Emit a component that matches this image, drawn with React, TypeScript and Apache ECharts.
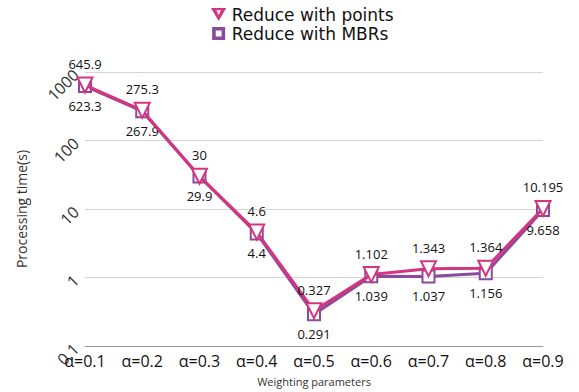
import React, { useEffect, useRef } from "react";
import * as echarts from "echarts";

const categories = ["α=0.1", "α=0.2", "α=0.3", "α=0.4", "α=0.5", "α=0.6", "α=0.7", "α=0.8", "α=0.9"];
const pointsValues = [645.9, 275.3, 30, 4.6, 0.327, 1.102, 1.343, 1.364, 10.195];
const mbrValues = [623.3, 267.9, 29.9, 4.4, 0.291, 1.039, 1.037, 1.156, 9.658];
const seriesNames = ["Reduce with points", "Reduce with MBRs"];

const PINK = "#d4357f";
const PURPLE = "#8a4a9e";
const FONT = "'Open Sans', 'Noto Sans', sans-serif";
const LEGEND_FONT = "'DejaVu Sans', sans-serif";

export default function App() {
  const ref = useRef<HTMLDivElement>(null);
  useEffect(() => {
    if (!ref.current) return;
    const chart = echarts.init(ref.current, null, { renderer: "svg" });
    chart.setOption({
      animation: false,
      textStyle: { fontFamily: FONT },
      legend: {
        orient: "vertical",
        left: 206,
        top: 0,
        itemGap: 0,
        itemWidth: 16,
        itemHeight: 13,
        textStyle: { fontSize: 17, lineHeight: 19, color: "#111", fontFamily: LEGEND_FONT },
        data: [
          { name: seriesNames[0], icon: "path://M0,0L20,0L10,17Z M7,3L10,9L13,3Z" },
          { name: seriesNames[1], icon: "path://M0,0L18,0L18,18L0,18Z M5,5L5,13L13,13L13,5Z" },
        ],
      },
      grid: { left: 85, right: 36, top: 72, bottom: 46 },
      xAxis: {
        type: "category",
        data: categories,
        boundaryGap: false,
        name: "Weighting parameters",
        nameLocation: "middle",
        nameGap: 30,
        nameTextStyle: { fontSize: 11, color: "#333" },
        axisLine: { lineStyle: { color: "#999" } },
        axisTick: { show: false },
        axisLabel: { fontSize: 16, color: "#111", margin: 7 },
      },
      yAxis: {
        type: "log",
        logBase: 10,
        min: 0.1,
        max: 1000,
        name: "Processing time(s)",
        nameLocation: "middle",
        nameGap: 57,
        nameTextStyle: { fontSize: 14, color: "#333" },
        axisLine: { show: false },
        axisTick: { show: false },
        axisLabel: {
          rotate: 45,
          fontSize: 16,
          color: "#333",
          margin: 9,
          formatter: (v: number) => String(v),
        },
        splitLine: { lineStyle: { color: "#d4d4d4" } },
      },
      series: [
        {
          name: seriesNames[1],
          type: "line",
          data: mbrValues,
          symbol: "emptyRect",
          symbolSize: 12,
          lineStyle: { color: PURPLE, width: 3 },
          itemStyle: { color: PURPLE, borderWidth: 4 },
          label: { show: true, position: "bottom", fontSize: 13, color: "#111", distance: 6 },
          z: 2,
        },
        {
          name: seriesNames[0],
          type: "line",
          data: pointsValues,
          symbol: "emptyTriangle",
          symbolRotate: 180,
          symbolSize: 15,
          lineStyle: { color: PINK, width: 3 },
          itemStyle: { color: PINK, borderWidth: 4 },
          label: { show: true, position: "top", fontSize: 13, color: "#111", distance: 6 },
          z: 3,
        },
      ],
    });
    return () => chart.dispose();
  }, []);
  return (
    <div
      ref={ref}
      style={{ position: "fixed", left: 0, top: 0, width: 579, height: 392, background: "#fff" }}
    />
  );
}
